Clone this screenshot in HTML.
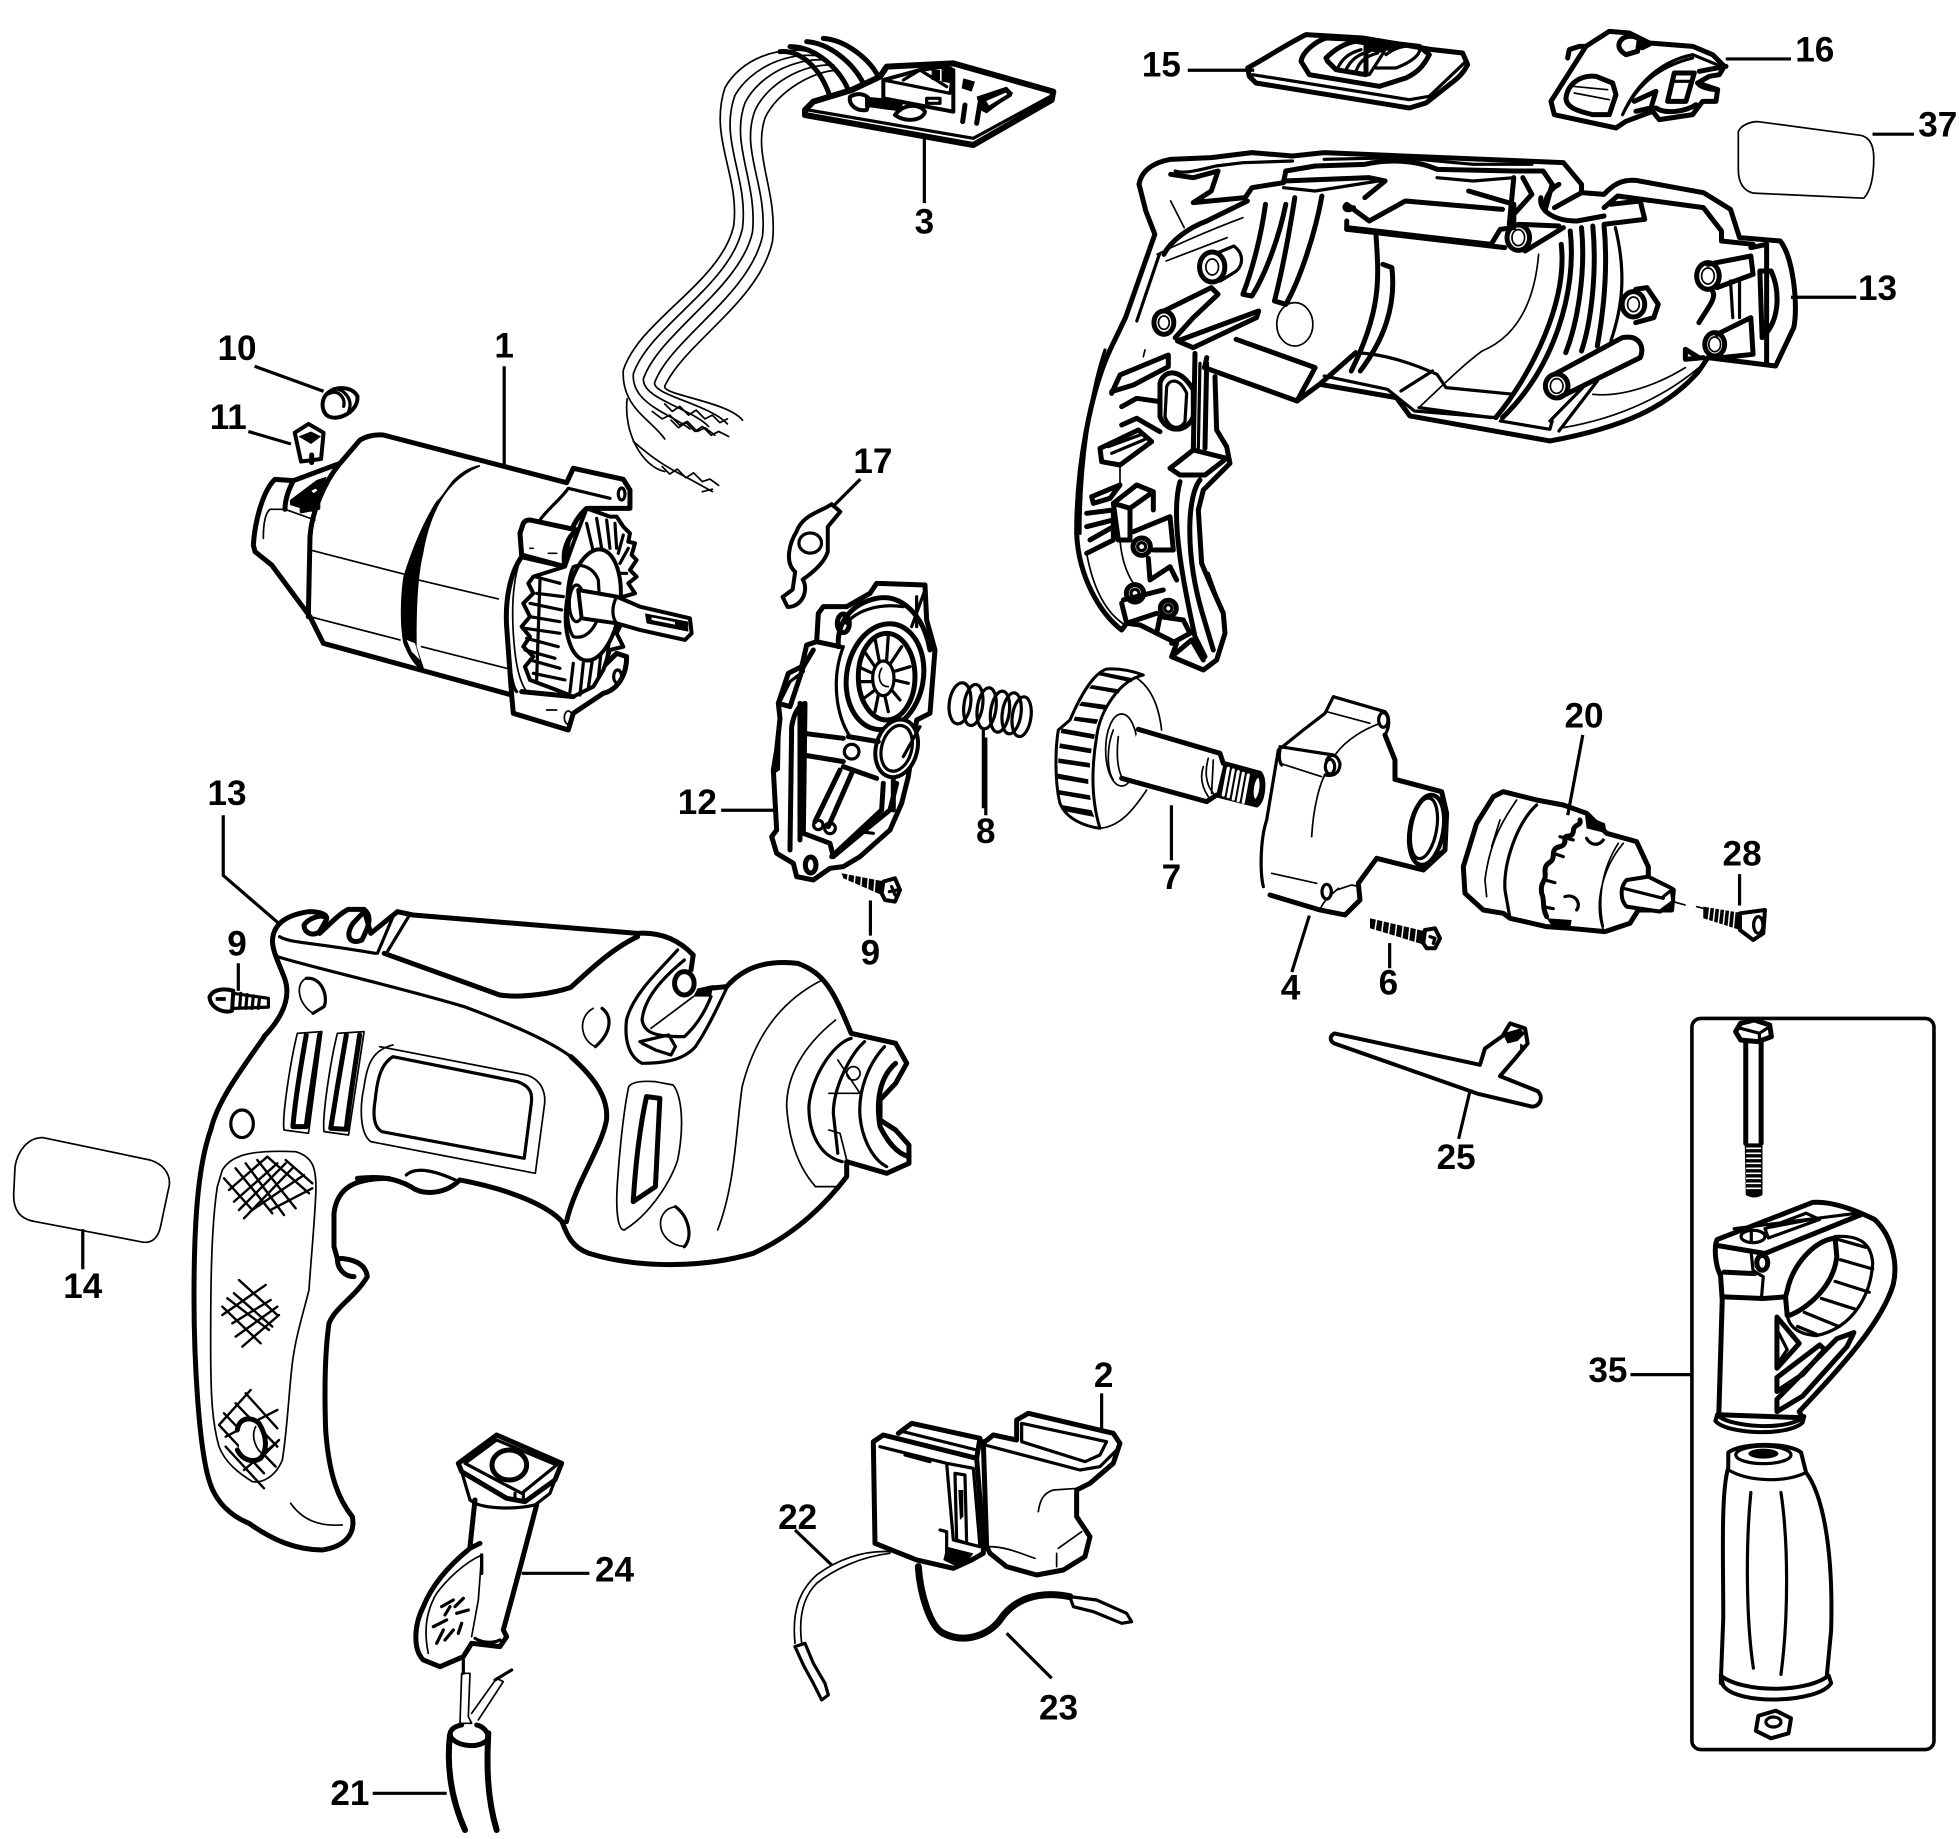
<!DOCTYPE html>
<html><head><meta charset="utf-8"><style>
html,body{margin:0;padding:0;background:#fff}
svg{display:block}
svg *{vector-effect:non-scaling-stroke}
text{font-family:"Liberation Sans",sans-serif;font-weight:bold;font-size:28px;fill:#000;text-anchor:middle}
.t,.t *{fill:none;stroke:#000;stroke-width:5;stroke-linejoin:round;stroke-linecap:round}
.m,.m *{fill:none;stroke:#000;stroke-width:3.2;stroke-linejoin:round;stroke-linecap:round}
.f,.f *{fill:#fff;stroke:#000;stroke-width:4;stroke-linejoin:round;stroke-linecap:round}
.n,.n *{fill:none;stroke:#000;stroke-width:1.7;stroke-linecap:round;stroke-linejoin:round}
.b,.b *{fill:#000;stroke:none}
.l{fill:none;stroke:#000;stroke-width:3.2}
</style></head><body>
<svg width="1959" height="1839" viewBox="0 0 1959 1839" xmlns="http://www.w3.org/2000/svg">

<g transform="scale(1.2542)">
<!-- Labels -->
<text x="402" y="285">1</text><text x="189" y="287">10</text><text x="182" y="342">11</text>
<text x="737" y="186">3</text><text x="926" y="61">15</text><text x="1447" y="49">16</text>
<text x="1545" y="109">37</text><text x="1497" y="239">13</text><text x="696" y="377">17</text>
<text x="556" y="649">12</text><text x="786" y="672">8</text><text x="934" y="709">7</text>
<text x="1263" y="580">20</text><text x="1389" y="690">28</text><text x="1029" y="797">4</text>
<text x="1107" y="793">6</text><text x="694" y="769">9</text><text x="181" y="642">13</text>
<text x="189" y="762">9</text><text x="1161" y="932">25</text><text x="1282" y="1102">35</text>
<text x="66" y="1035">14</text><text x="880" y="1106">2</text><text x="636" y="1219">22</text>
<text x="490" y="1261">24</text><text x="844" y="1371">23</text><text x="279" y="1439">21</text>

<!-- Leader lines -->
<path class="l" d="M402,292V372M203,292L258,312M198,344L232,354M737,110V162M947,56H1000M1376,47H1428M1493,107H1526M1428,237H1480M686,382L660,408M575,646H620M786,588V650M934,642V686M1262,586L1250,650M1387,697V722M1044,730L1030,775M1108,752V772M694,718V746M178,650V698L222,736M190,768V790M1172,870L1163,908M1300,1096H1348M66,980V1012"/>

<!-- 3 : wires -->
<g class="n">
<path d="M650,42C620,35 590,48 578,70C565,110 590,140 585,180C575,225 510,255 497,295C495,325 520,335 530,350"/>
<path d="M655,45C628,40 598,55 586,76C573,112 597,142 592,182C582,228 518,260 505,298C503,322 535,330 550,342"/>
<path d="M660,48C635,45 605,60 594,82C582,115 604,145 600,185C590,230 526,265 513,302C512,318 550,325 565,340"/>
<path d="M665,52C642,50 612,66 602,88C590,120 612,148 608,188C598,235 535,270 522,305C520,315 565,322 580,338"/>
<path d="M668,56C650,56 620,72 610,94C600,124 620,152 616,192C606,240 545,274 530,308C528,315 580,320 592,335"/>
<path d="M500,318C497,345 512,372 530,376"/>
<path d="M505,352C520,365 530,372 550,382L568,392"/>
<path d="M528,372l6,6l6,-4l7,7l6,-4l7,7l6,-2l7,5M560,392l8,-2"/>
<path d="M530,322l6,6l6,-4l7,7l6,-4l7,7l6,-3l6,6l6,-3M535,335l6,6l6,-4l7,7l6,-4l7,7l6,-3l8,4M520,328l8,6l6,-3l8,8l6,-3l8,8l6,-3l8,6"/>
</g>

<!-- 37 -->
<path class="n" d="M1386,105C1388,100 1395,97 1402,97L1484,108C1492,110 1494,118 1494,126C1494,140 1492,152 1486,158L1398,154C1390,152 1386,146 1386,135Z"/>

<!-- 10, 11 -->
<path class="f" d="M258,318C262,308 280,306 285,316C286,328 270,336 262,332C258,330 256,324 258,318Z"/>
<path class="m" d="M262,314C268,310 276,316 274,324M266,310C274,310 282,318 278,328"/>

<!-- 17 -->
<path class="f" d="M635,424C640,410 655,408 663,402L670,408L660,420L660,440C656,452 640,462 640,462C645,470 640,484 628,484L624,476L632,470L634,456C625,448 630,432 635,424Z"/>
<ellipse class="m" cx="646" cy="433" rx="9" ry="8"/>

<!-- 25 key -->
<path class="f" d="M1064,824L1180,849L1184,836L1198,826L1204,816L1216,820L1218,832L1208,844L1196,858L1226,870C1232,876 1226,884 1220,882L1178,872L1064,832C1060,830 1060,826 1064,824Z"/>
<path class="b" d="M1198,824l14,-4l4,4l-6,6l-8,2zM1212,832l4,2l-4,6z"/>

<!-- 35 box -->
<rect x="1349" y="812" width="193" height="583" rx="7" fill="#fff" stroke="#000" stroke-width="3.6"/>
<!-- grip -->
<path class="f" d="M1378,1158C1390,1150 1425,1150 1436,1158L1440,1174C1452,1190 1462,1230 1460,1300L1456,1342C1440,1352 1392,1352 1372,1342L1374,1290C1374,1240 1372,1190 1378,1170Z"/>
<ellipse class="m" cx="1406" cy="1160" rx="22" ry="7"/>
<ellipse class="b" cx="1406" cy="1159" rx="12" ry="4"/>
<path class="m" d="M1378,1172C1395,1182 1425,1182 1440,1174M1396,1190C1392,1230 1392,1290 1398,1330M1420,1190C1426,1230 1426,1290 1420,1335"/>
<path class="f" d="M1372,1336C1390,1350 1440,1350 1458,1336L1460,1342C1450,1358 1385,1360 1374,1344Z"/>
<path class="f" d="M1402,1368L1416,1364L1428,1370L1426,1382L1412,1386L1400,1380Z"/>
<ellipse class="m" cx="1414" cy="1373" rx="6" ry="4"/>

<!-- Lower drill: upper-left edge -->
<path class="t" d="M210.5,827C187,860 173,880 168,901"/>
<g class="m"><ellipse cx="193" cy="896" rx="9" ry="11"/></g>

<!-- 14 -->
<path class="n" d="M12,930C14,918 22,907 34,907L120,925C130,928 136,936 135,945L128,978C126,988 120,992 112,990L28,974C16,972 10,965 11,950Z"/>

<!-- 9 screw left -->
<path class="f" d="M167,795C170,788 180,788 186,790L185,806C178,808 168,804 167,795Z"/>
<path class="m" d="M186,792L214,796L214,803L186,804M192,792l-1,12M197,793l-1,11M202,794l-1,10M207,795l-1,9"/>
<path class="b" d="M172,795h8v3h-8z"/>

<!-- 11 -->
<path class="f" d="M235,345L246,338L258,345L256,366L240,368Z"/>
<path class="b" d="M238,348l10,-4l8,4l-8,6z"/>
</g>

<!-- 15 and 16 -->
<g transform="translate(1246,18) scale(.3333)">
<path class="t" d="M5,150C60,120 120,80 180,50L350,60L560,95L650,105L665,140C650,170 630,185 610,200L540,255L490,270L30,195L10,175Z"/>
<path class="m" d="M20,170L490,245L550,235L660,130"/>
<path class="t" d="M165,130C170,100 210,70 240,60L350,65L520,85L550,110C530,150 510,165 480,180L400,205L190,170Z"/>
<path class="t" d="M240,120C270,90 300,75 330,70L360,75L360,170L270,155L245,130Z"/>
<path class="b" d="M350,70L470,75L440,100L360,90Z"/>
<path class="m" d="M360,95L415,100L370,170L340,170M275,150C290,120 310,105 345,95M300,155C315,125 335,110 370,100M330,160C340,130 360,115 395,105"/>
<path class="m" d="M420,110C450,85 490,80 520,85C530,110 490,135 450,150L390,150"/>
<path class="t" d="M965,120L970,95L1000,85L1020,85L1090,40L1150,45L1210,75L1340,85L1400,110L1435,145L1420,170L1390,175L1355,195L1415,215L1410,250L1370,250L1340,290L1240,305L1220,280L1140,310L1110,330L925,290L915,250L1020,85"/>
<path class="t" d="M1120,75C1130,50 1165,50 1180,65L1175,100L1140,110C1125,100 1115,90 1120,75Z"/>
<path class="b" d="M1180,70l40,12l-30,15l-15,-5z"/>
<path class="t" d="M960,240C965,200 1000,170 1050,175L1100,195L1110,230L1090,290L1040,290C1000,280 960,270 960,240Z"/>
<path class="n" d="M980,205L1085,215M985,225L1090,245"/>
<path class="m" d="M1130,290C1170,200 1240,130 1340,110L1425,145M1140,270C1190,180 1260,140 1340,120"/>
<path class="t" d="M1285,165L1345,165L1320,250L1265,250Z"/>
<path class="m" d="M1285,190L1330,190"/>
<path class="t" d="M1165,250L1230,220L1215,270L1170,280M1360,160L1440,145M1230,270C1260,290 1320,280 1350,260M1355,195C1370,215 1415,215 1415,215"/>
</g>

<!-- Switch 2, wires 22/23 -->
<g transform="translate(780,1400) scale(.3333)">
<path class="l" d="M45,390L155,495M680,700L815,835M965,-20V85"/>
<path class="t" d="M615,125L640,105L710,120L710,60L745,40L1000,100L1020,130L1000,190L930,250L890,270L890,350L930,410L915,470L850,510L770,525L680,500L630,460L620,440L610,125"/>
<path class="m" d="M725,70L980,125L960,165L915,185L725,125ZM615,135L900,210L960,200L1010,150"/>
<path class="n" d="M895,265L820,270C790,280 780,300 775,335M625,440C680,440 720,460 765,475M905,395L835,445M830,460V500"/>
<path class="t" d="M280,125L310,105L590,175L610,420L610,460L575,480L520,505L410,480L285,430Z"/>
<path class="t" d="M355,100L395,70L600,115L590,175"/>
<path class="m" d="M370,95L590,150M300,140L500,190M375,165L450,185M500,190L580,205L600,440L520,420ZM525,220L555,225L560,430L530,420ZM480,390L500,395L500,480"/>
<path class="b" d="M535,270L550,270L550,350L540,360ZM500,440L580,460L560,490L520,495L490,480Z"/>
<path class="n" d="M330,455C250,450 170,480 110,525C60,570 35,630 45,730M330,460C240,470 160,510 110,550C70,590 55,650 65,730"/>
<path class="m" d="M45,740L75,730L100,790L135,850L145,885L125,900L100,850L70,795Z"/>
<path class="t" style="stroke-width:7" d="M415,500C420,580 450,680 490,700C560,735 630,700 660,660C700,600 770,570 870,590"/>
<path class="m" d="M870,590L950,600L1040,640L1055,665L1025,670L940,635L880,620Z"/>
</g>

<!-- 24 and cord -->
<g transform="translate(400,1430) scale(.3333)">
<path class="l" d="M-82,1090H140M365,430H568"/>
<path class="t" d="M175,100L290,15L485,100L465,150L375,215L320,205L185,125Z"/>
<path class="m" d="M195,100L290,30L470,105L365,190Z"/>
<ellipse class="t" cx="328" cy="105" rx="52" ry="45"/>
<path class="m" d="M185,125L210,210L225,220C260,235 340,240 405,225L450,190L465,150M345,190V210M370,190V210"/>
<path class="t" d="M225,210L210,350M410,225C390,300 370,380 310,600L320,620L300,650L215,640L190,680L120,710L70,690C40,660 40,590 70,530C90,480 130,420 210,355L240,340"/>
<path class="n" d="M245,375L235,510L215,620M245,375C190,400 140,450 110,490C80,540 70,600 85,670"/>
<path class="t" style="stroke-width:3.4" d="M245,375L245,430"/>
<path class="m" d="M225,625C250,640 280,640 300,630M125,530L160,510M150,530L135,555M165,530L190,505M170,550L205,540M100,590L140,570M130,600L110,640M160,600L135,630M185,580L175,610"/>
<path class="m" d="M190,690V730"/>
<path class="n" d="M185,730L210,730L205,860L215,880L180,880ZM215,850L290,745L310,755L235,870"/>
<path class="m" d="M285,750L335,720"/>
<path class="t" d="M185,885C160,890 150,900 150,915C160,950 245,960 265,925C265,905 250,890 230,885"/>
<path class="t" style="stroke-width:6" d="M150,915C140,1000 150,1100 195,1200M265,910C260,1000 260,1100 290,1200"/>
</g>

<!-- Lower handle -->
<g transform="translate(189,1130) scale(.3333)">
<path class="t" d="M65,0C30,100 15,250 15,500C15,700 30,950 60,1050C80,1120 130,1160 180,1180C250,1230 320,1260 400,1260C470,1250 500,1210 490,1160C450,1110 420,1040 410,900C405,750 410,650 420,580C440,530 500,500 535,440C530,400 490,385 445,385L435,350L435,250C445,170 500,145 600,145M445,385C445,420 470,440 495,440"/>
<path class="n" d="M100,120C130,70 200,60 320,65C370,80 385,110 380,200C375,300 365,400 360,480C340,560 320,620 310,700C300,780 295,900 280,990C260,1040 220,1060 190,1055C150,1030 110,1000 90,950C70,880 65,800 65,650C65,500 65,300 85,170ZM305,1120C340,1170 390,1190 460,1185"/>
<g class="m" style="--x:0"><path style="stroke-width:2.4" d="M205,90L320,235M170,100L285,255M140,115L250,250M105,145L190,240M235,80L360,190M290,90L370,160M165,265L310,115M190,240L345,135M245,240L370,175M120,180L235,80M135,215L265,100M150,240L290,100"/>
<path style="stroke-width:2.4" d="M150,450L265,555M115,505L240,600M100,530L215,640M135,490L250,590M100,555L230,465M130,580L245,510M140,620L265,530M160,650L270,555"/>
<path style="stroke-width:2.4" d="M170,790L265,895M140,820L265,950M105,850L260,1010M90,885L225,1030M110,950L225,1075M90,885L185,780M110,920L265,840M210,990L270,930M165,1020L260,940"/></g>
<path class="f" style="stroke:none" d="M150,880C190,850 230,900 225,950C220,990 170,1000 150,960Z"/>
<path class="t" d="M145,900C150,860 190,860 210,880C235,920 235,960 215,985C190,1000 160,990 145,960"/>
<path class="n" d="M200,890C185,920 200,960 225,975"/>
</g>

<!-- PCB (z8) -->
<g transform="translate(780,40) scale(.3333)">
<path class="t" style="stroke-width:6;fill:#fff" d="M75,210L100,185L215,150L300,110L320,80L520,70L820,155L815,180L580,315L75,225Z"/>
<path class="m" d="M85,210L580,295L810,170"/>
<path class="f" d="M310,120L420,90L490,80L520,90L520,215L310,175Z"/>
<path class="m" d="M310,120L510,160L520,90M370,120L420,90L500,140M440,175h40v15h-40z"/>
<path class="b" d="M455,90h25v30h-25zM485,85l30,-5v50l-30,-5zM550,115l35,10l-10,30l-30,-10z"/>
<path class="f" d="M210,170C240,155 260,165 270,180L260,210C230,215 205,195 210,170Z"/>
<path class="f" d="M345,225C370,190 420,190 435,215C430,240 380,250 345,225Z"/>
<path class="b" d="M255,170L370,180L365,215L255,200Z"/>
<path class="f" d="M270,178L345,190L340,200L268,188Z"/>
<path class="b" d="M590,170l90,-30l20,20l-80,60l-20,-10z"/>
<path class="f" d="M610,180L680,150L690,165L625,205Z"/>
<path class="t" d="M555,195L548,245M600,190L590,250"/>
<g class="t"><path d="M0,35C60,30 120,80 150,170M30,20C110,20 180,90 205,150M80,5C150,10 220,70 250,130M130,-5C200,0 270,60 295,110"/></g>
</g>

<!-- Upper housing (z4) -->
<g transform="translate(1125.5,141) scale(.4515,.3333)">
<path class="t" d="M30,130C35,90 60,65 100,55L190,50L280,35L370,45L440,35L970,65L1010,130L1010,155L1060,160C1080,130 1100,115 1130,118L1280,155L1340,205L1360,290L1450,300C1480,350 1490,500 1480,560L1440,675L1290,650L1270,690C1200,800 1100,860 940,900L630,825L600,770L430,730L380,780L175,680"/>
<path class="t" d="M30,130L45,210L65,280L0,530"/>
<path class="m" d="M75,340L25,540"/>
<path class="t" d="M100,100L150,110L205,90L190,150L150,185L265,170L280,140L350,125L355,90L420,75L530,70C580,55 640,55 690,85L860,90L925,90L945,130L930,205"/>
<path class="m" d="M110,90C130,100 170,85 200,75L260,65L370,60M440,55L610,50L770,70L900,70M350,140L420,150L560,120M690,110L770,120L860,110"/>
<path class="t" d="M85,340C100,300 140,260 180,240L270,180"/>
<path class="n" d="M100,180L130,260M70,340C100,320 180,270 260,230M90,360L225,290"/>
<ellipse class="t" cx="85" cy="545" rx="22" ry="35"/><ellipse class="n" cx="85" cy="545" rx="12" ry="20"/>
<path class="t" d="M85,510L190,440L205,460L150,530L130,560L110,590"/>
<ellipse class="t" cx="192" cy="378" rx="28" ry="45"/><ellipse class="n" cx="192" cy="378" rx="14" ry="24"/>
<path class="m" d="M205,335L240,315C265,340 260,380 240,395L210,420"/>
<path class="t" d="M310,190C300,290 280,390 260,460L280,465C310,400 340,290 355,190M375,170C360,300 345,400 330,480L355,490C385,420 420,280 435,165"/>
<ellipse class="n" cx="375" cy="550" rx="40" ry="65"/>
<path class="t" d="M115,600L295,510L290,530L150,620Z"/>
<path class="t" d="M175,680L180,650M245,595L420,680L380,780"/>
<path class="t" d="M430,730L510,635"/><path class="m" d="M510,635C580,640 640,670 690,700L710,740L860,760M610,750L680,690M650,800L810,830"/>
<path class="t" d="M490,260L810,310L830,265L860,260L860,190L760,150M490,190L540,240L620,180L835,205M490,265L840,320"/>
<path class="t" d="M490,190C480,200 490,215 505,200M490,240L490,265M350,120L540,110L575,120L530,170"/>
<path class="t" d="M555,285C560,400 570,500 500,690M570,370L590,380C600,500 570,600 520,690"/>
<path class="n" d="M915,340C905,500 860,590 790,630C750,670 720,710 650,800"/>
<ellipse class="t" cx="870" cy="290" rx="25" ry="38"/><ellipse class="n" cx="870" cy="290" rx="14" ry="24"/>
<path class="t" d="M870,250L960,255M885,330L970,260M860,110L850,250M880,110L900,160L860,220M920,170C915,210 950,240 1000,240L1060,225"/>
<path class="t" d="M965,310C980,480 900,700 820,830M985,270C1000,450 950,680 835,830"/>
<path class="t" d="M1010,260C1020,400 1000,550 975,635M1035,255C1045,400 1030,550 1010,630M1060,255C1070,400 1055,540 1045,615"/>
<path class="m" d="M1085,260C1110,400 1100,500 1075,600"/>
<ellipse class="t" cx="1125" cy="490" rx="25" ry="38"/><ellipse class="n" cx="1125" cy="490" rx="13" ry="22"/>
<path class="t" d="M1130,445L1155,440L1180,490L1170,530L1130,545"/>
<path class="t" d="M950,700L1100,590C1140,580 1150,620 1140,650L960,770"/>
<ellipse class="t" cx="955" cy="735" rx="25" ry="36"/><ellipse class="n" cx="955" cy="735" rx="14" ry="22"/>
<path class="m" d="M960,870L1045,720M940,840L1020,730"/>
<path class="n" d="M1035,760C1100,770 1180,730 1240,680M970,860C1100,830 1200,760 1270,680"/>
<ellipse class="t" cx="1290" cy="405" rx="25" ry="40"/><ellipse class="n" cx="1290" cy="405" rx="14" ry="24"/>
<ellipse class="t" cx="1305" cy="610" rx="22" ry="35"/><ellipse class="n" cx="1305" cy="610" rx="13" ry="22"/>
<path class="t" d="M1290,370L1385,345L1390,400L1310,440M1310,580L1385,530L1390,640L1320,650M1270,545C1290,500 1310,470 1300,450M1385,320L1420,310L1420,670M1430,390C1450,450 1450,540 1410,590L1405,390Z"/>
<path class="t" d="M1060,200L1090,165L1280,200L1320,270L1320,300L1390,310M1270,650L1240,625L1240,655L1280,650M1075,190L1140,180L1150,235L1060,250M960,130C930,150 925,200 930,210M1010,155L950,200"/>
<path class="m" d="M1340,420L1345,530M1360,420L1360,530"/>
<path class="m" d="M440,705L580,745L640,810L820,830L830,810M830,840L940,865L945,840"/>
</g>

<!-- Upper housing handle (z5) -->
<g transform="translate(1070,350) scale(.3333)">
<path class="t" d="M166,-96L120,0C60,130 20,350 20,550C25,680 90,790 155,840L170,820L210,825L260,850L320,880L305,920L400,960L440,930L465,850L460,790L420,700L395,640L385,480L400,420L480,340L470,290L440,240L435,80"/>
<path class="m" d="M105,0C60,130 30,350 30,550"/>
<path class="n" d="M50,610C70,720 110,790 165,825M150,345L150,405M150,570C155,630 170,670 190,700M225,0L220,20"/>
<path class="t" d="M125,130L150,75L295,15L295,50L190,105L125,125Z"/>
<path class="t" d="M270,100C280,60 330,50 370,120L370,200C350,250 290,250 270,200Z"/>
<path class="m" d="M290,110C300,85 330,85 350,130L345,215C330,240 300,240 285,200Z"/>
<path class="t" d="M155,170L200,145L270,155M155,225L200,205L270,245"/>
<path class="t" d="M375,10L370,300M410,40L405,295"/><path class="m" d="M390,40L385,295"/>
<path class="t" d="M300,355L370,300L470,325L405,375L330,375Z"/>
<path class="t" d="M90,295L205,240L245,275L150,345L95,335Z"/><path class="m" d="M115,290L210,255M125,310L225,268"/>
<path class="t" d="M130,460L200,405L250,425L250,480M130,460L180,475L180,570L145,570L130,460M180,475L250,425"/>
<path class="t" d="M65,440L150,405L120,445L70,460Z"/>
<path class="t" d="M50,490L130,480L130,570L50,610M50,530L130,510M60,570L130,530"/>
<circle class="t" cx="215" cy="590" r="26"/><circle class="m" cx="215" cy="590" r="12"/>
<path class="t" d="M190,545L300,500L310,600L250,600M235,625L240,690L300,650L320,690"/>
<circle class="t" cx="195" cy="730" r="26"/><circle class="m" cx="195" cy="730" r="12"/>
<path class="t" d="M160,750L280,720M155,760L170,820L260,790M260,850L270,800L340,810L360,850L305,880"/>
<circle class="t" cx="295" cy="775" r="24"/><circle class="m" cx="295" cy="775" r="11"/>
<path class="t" d="M330,395C300,500 340,700 375,860L405,920M390,390C350,440 345,620 400,800L430,900"/>
<path class="m" d="M415,670L440,740"/>
<path class="t" d="M305,920L365,870L400,930"/>
</g>

<!-- Lower drill right part (z6) -->
<g transform="translate(264,900) scale(.4448,.3333)">
<path class="t" d="M0,410C50,340 60,280 45,230C30,180 15,140 20,110C25,70 50,45 100,35C130,35 145,45 140,60L125,95C110,110 90,100 90,75C100,55 125,45 135,50M125,100C150,70 170,40 190,28L225,28C245,50 235,80 220,120C195,135 180,110 200,70L225,35M225,30L240,100L300,35L335,45L840,100C900,95 940,130 965,165L960,210M1000,265L1040,260C1080,200 1130,180 1200,190C1260,220 1280,270 1320,400L1420,430L1445,490L1420,550L1385,600L1385,660L1420,690L1450,735L1450,790L1400,820L1310,785L1310,830C1270,900 1200,1000 1100,1060C1000,1100 850,1110 730,1060C690,1040 680,1000 670,965C640,920 560,870 440,840C410,880 360,890 330,860C290,830 250,830 210,835"/>
<path class="m" d="M35,110C60,130 100,125 250,160"/>
<path class="t" d="M270,160L530,285C580,295 650,280 690,262C740,200 790,140 840,110"/>
<path class="m" d="M255,160L290,50M275,160L325,50"/>
<path class="m" d="M30,170C100,200 300,260 450,320C550,370 640,420 690,470"/>
<path class="t" d="M690,470C740,530 775,590 770,660C760,740 700,850 680,965"/>
<path class="n" d="M75,400L130,395L100,700L45,690C40,650 60,480 75,400M165,400L225,395L190,705L135,695C130,650 150,480 165,400"/>
<path class="t" d="M95,405C85,480 70,600 65,680L95,680M125,405C115,500 100,620 95,680M185,405C175,480 160,600 150,685L185,688M215,405C205,500 190,620 185,688"/>
<path class="n" d="M260,440L590,525C625,540 635,580 630,620L610,820L240,725C215,700 215,620 225,560C232,490 245,450 290,435"/>
<path class="m" d="M290,470L570,545C600,560 605,580 600,620L585,775L265,695C245,680 245,640 250,600C255,530 265,490 290,470Z"/>
<path class="n" d="M820,560Q830,540 880,545L920,555C940,590 945,680 930,780C910,860 860,950 810,990C795,990 790,930 795,840C800,740 810,620 820,560Z"/>
<path class="t" d="M860,590L890,595L880,860L830,905C835,800 845,680 860,590Z"/>
<path class="m" d="M95,235C130,230 145,290 135,320L110,340"/><path class="n" d="M95,235C70,250 75,310 110,340"/>
<path class="m" d="M760,325C785,350 780,400 745,440"/><path class="n" d="M740,325C705,350 710,420 745,440"/>
<path class="m" d="M925,920C955,950 965,1010 945,1040"/><path class="n" d="M925,920C875,930 880,1030 945,1040"/>
<path class="m" d="M930,150C890,210 830,280 815,360C810,420 820,470 850,490C890,490 940,485 970,440C1000,380 1020,320 1040,265"/>
<path class="m" d="M945,180C900,230 855,290 850,360C855,400 880,410 945,410C970,380 990,340 1005,290"/>
<path class="n" d="M965,290L870,385"/>
<ellipse class="t" cx="945" cy="250" rx="22" ry="35"/>
<path class="m" d="M845,425L910,405L925,440L915,465L880,450L850,430"/>
<path class="b" d="M965,290L1005,290L1010,255L975,265Z"/>
<path class="n" d="M1255,240C1150,310 1100,430 1075,560C1060,700 1060,850 1020,990M1285,360C1210,440 1175,530 1175,620C1180,720 1200,800 1240,860L1290,860"/>
<path class="m" d="M1320,415C1280,430 1230,530 1225,620C1225,700 1250,770 1300,785M1350,425C1320,460 1280,560 1280,640L1290,760M1395,440C1360,490 1335,570 1340,650C1345,720 1370,780 1400,800"/>
<path class="t" d="M1420,490C1385,530 1375,600 1385,680C1400,720 1420,760 1450,770"/>
<path class="n" d="M1290,480L1340,580L1270,580M1325,500a15,20 0 1,0 .1,0M1270,690L1295,700L1310,780"/>
<path class="m" d="M320,825C340,800 380,810 430,840"/>
</g>

<!-- Motor (z1) -->
<g transform="translate(240,420) scale(.3333)">
<path class="b" d="M140,270L160,215L230,170L270,160L230,290Z"/>
<path class="t" style="fill:#fff" d="M40,375C45,300 70,210 105,178L160,182L300,130L360,60Q390,42 430,45L980,188L1000,145L1150,178L1170,210L1170,265L1040,265C1000,300 980,350 975,440L845,410C810,460 795,540 800,620L815,825L560,755L250,670L210,590L95,435L45,395Z"/>
<path class="n" d="M70,355C70,310 75,280 90,268L135,268L225,300"/>
<path class="t" d="M210,350L205,590M300,130C250,190 215,280 210,350M160,182C140,220 135,250 135,268"/>
<path class="b" d="M150,240l80,-60l30,-10l-20,60l-10,50l-80,-25z"/>
<path class="f" d="M185,262l50,-10v12l-50,10zM205,210l25,-12l10,15l-20,15z"/>
<path class="n" d="M210,390L490,462M210,590L480,660M535,480L775,537M545,680L800,745"/>
<path class="b" d="M720,135C620,150 540,310 490,470C480,540 480,620 490,670C510,720 530,745 555,755L530,680C530,600 530,480 550,400C570,280 620,180 720,140Z"/>
<path class="f" style="stroke:none" d="M500,660l25,10l15,50l-25,-25zM620,175l40,-25l-50,70l-20,25z"/>
<path class="m" d="M900,300C920,270 960,240 985,205L1110,235"/>
<path class="t" style="fill:#fff" d="M850,310Q855,300 870,300L1010,330C985,350 965,390 975,440L845,405L840,340Z"/>
<path class="t" style="fill:#fff" d="M815,825L820,880L985,930L1000,880L1090,820C1130,810 1160,770 1160,710L1130,700L1000,830L845,815"/>
<path class="n" d="M920,870h30M870,385h10M925,400h25"/>
<ellipse class="n" cx="985" cy="893" rx="12" ry="20"/>
<ellipse class="m" cx="1133" cy="770" rx="12" ry="20"/>
<ellipse class="m" cx="1145" cy="222" rx="10" ry="18"/>
<path class="m" d="M845,410C810,460 795,540 800,620C805,720 815,800 830,815"/>
<path class="n" d="M840,420C820,480 815,560 820,640C825,720 835,780 860,815"/>
<path class="f" d="M1040,265L1110,290L1130,290L1150,320L1170,340L1165,365L1185,370L1175,405L1190,420L1170,450L1190,470L1165,490L1185,520L1150,530L1150,600L1130,640L1150,680L1110,690L1090,750L1060,800L1000,830L950,810L870,780L855,740L880,710L850,680L870,650L845,620L870,590L850,550L880,520L865,490L880,470L975,440L1000,370Z"/>
<path class="m" d="M885,470L960,490M890,520L970,530M870,550L965,570M870,590L960,605M855,625L960,640M860,655L955,680M855,690L945,715M870,720L960,745M880,760L975,780M900,480L890,780"/>
<path class="m" d="M1040,310L1060,395M1070,295L1085,385M1100,300L1110,385M1125,310L1130,385M1150,345L1135,400M1165,385L1140,430M1160,460L1140,460M1000,730L990,815M1030,730L1020,825M1060,700L1045,805M1085,680L1075,775M1110,650L1100,720"/>
<ellipse class="f" cx="1060" cy="555" rx="80" ry="168" transform="rotate(8 1060 555)"/>
<path class="m" d="M1000,440C975,490 975,620 1000,650C1040,660 1075,620 1080,560L1075,480C1060,440 1020,430 1000,440Z"/>
<ellipse class="m" cx="1010" cy="550" rx="22" ry="55"/>
<path class="f" d="M1015,510L1130,530L1200,560L1350,595L1355,640L1335,660L1200,630L1130,610L1025,595Z"/>
<path class="b" d="M1215,580L1345,605L1345,635L1220,610Z"/>
<path class="f" style="stroke:none" d="M1235,592l70,14v8l-70,-14z"/>
<path class="m" d="M1130,530C1115,560 1115,590 1130,610"/>
<path class="t" d="M215,105V128"/>
</g>

<!-- Gear case, spring, gear 7 (z2) -->
<g transform="translate(760,570) scale(.3333)">
<path class="t" d="M100,880L110,920L160,930L210,895L250,890L300,860L390,780L425,700L445,620L470,450L510,430L525,240L500,150L495,45L350,40L330,70L260,110L190,110L175,130L170,215L140,225L125,290L85,310L55,400L60,445L50,540L40,600L50,780L35,800L50,850Z"/>
<path class="b" d="M50,540L62,490L60,600L45,610Z"/>
<path class="t" d="M90,840L95,470Q105,410 135,400L130,790L210,820L220,860L310,785L390,720L410,640M120,400L120,810M55,400L90,410L130,290L160,240M170,215L240,230M235,230C230,150 280,100 350,85C420,70 490,130 510,240"/>
<ellipse class="t" cx="250" cy="160" rx="18" ry="28"/>
<path class="m" d="M260,160C290,120 360,100 430,110M250,230C215,320 225,430 270,500M470,80L470,170M495,60L455,170"/>
<ellipse class="t" cx="375" cy="320" rx="115" ry="160" transform="rotate(10 375 320)"/>
<ellipse class="t" cx="380" cy="320" rx="85" ry="130"/>
<ellipse class="m" cx="370" cy="325" rx="32" ry="52"/>
<path class="m" d="M385,195L380,270M345,205L358,275M310,240L345,290M295,290L338,310M295,335L338,335M305,390L345,360M345,425L355,375M385,425L375,380M420,390L395,360M445,340L402,330M450,290L400,305M425,230L392,280"/>
<path class="n" d="M365,295C350,320 360,350 385,350"/>
<ellipse class="f" cx="410" cy="535" rx="62" ry="88" transform="rotate(15 410 535)"/>
<ellipse class="m" cx="410" cy="535" rx="45" ry="70" transform="rotate(15 410 535)"/>
<path class="t" d="M130,490L250,505M130,555L250,575M250,590L350,625M240,600L165,755M275,610L205,770M370,640L365,720L215,860M400,630L400,720M265,500L355,515"/>
<circle class="m" cx="275" cy="545" r="22"/>
<circle class="m" cx="210" cy="775" r="16"/><circle class="m" cx="175" cy="765" r="14"/>
<ellipse class="t" cx="152" cy="885" rx="16" ry="24"/>
<path class="m" d="M300,785L340,790M430,560L480,470M60,395l30,-60l40,-30"/>
<g class="m">
<ellipse cx="600" cy="400" rx="32" ry="62" transform="rotate(8 600 400)"/>
<ellipse cx="640" cy="405" rx="28" ry="62" transform="rotate(8 640 405)"/>
<ellipse cx="680" cy="415" rx="28" ry="62" transform="rotate(8 680 415)"/>
<ellipse cx="720" cy="425" rx="28" ry="62" transform="rotate(8 720 425)"/>
<ellipse cx="755" cy="430" rx="28" ry="62" transform="rotate(8 755 430)"/>
<ellipse cx="785" cy="440" rx="28" ry="60" transform="rotate(8 785 440)"/>
</g>
<path class="l" d="M670,480V715"/>
<path class="n" d="M1040,300C1130,300 1190,350 1205,480M1160,660C1120,720 1080,770 1020,775"/>
<path class="f" style="stroke-width:3" d="M1040,297C1000,310 960,380 930,450L895,480C885,540 885,640 900,700C920,750 980,770 1020,775C1000,710 990,620 1010,500C1020,420 1080,330 1150,315C1110,300 1070,295 1040,297Z"/>
<path class="b" d="M1020,305l100,20l-6,12l-100,-22zM995,345l88,14l-8,12l-88,-16zM965,395l75,10l-8,14l-75,-12zM945,440l70,8l-6,14l-68,-10zM905,475l100,18l-3,14l-100,-18zM900,520l95,16l-2,14l-95,-16zM895,565l95,14l0,14l-95,-14zM890,610l95,18v14l-95,-16zM895,660l95,16l2,14l-95,-16zM905,705l90,16l8,20l-92,-18z"/>
<ellipse class="n" cx="1085" cy="540" rx="48" ry="108"/>
<path class="n" d="M1060,480C1040,530 1040,600 1060,630M1075,500C1070,540 1070,590 1085,620"/>
<path class="t" style="fill:#fff" d="M1135,478L1380,550L1390,580L1500,610C1515,630 1510,690 1490,705L1370,675L1340,695L1085,625"/>
<path class="n" d="M1330,590C1320,620 1325,650 1345,680M1345,565C1335,600 1335,640 1360,670M1360,570L1355,670"/>
<path class="b" d="M1390,585l100,30l10,50l-10,35l-120,-30z"/>
<path class="m" style="stroke:#fff" d="M1405,595l-15,80M1420,600l-15,80M1435,605l-15,82M1450,610l-15,82M1465,615l-15,82"/>
<ellipse class="f" cx="1490" cy="655" rx="14" ry="38" transform="rotate(8 1490 655)"/>
<path class="b" d="M245,910L375,935L365,975L250,925Z"/>
<path class="m" style="stroke:#fff;stroke-width:1.5" d="M265,912L262,935M285,916L282,948M305,920L302,955M325,925L322,962M345,930L342,968"/>
<path class="f" d="M370,935L405,925L420,960L405,995L375,990L365,970Z"/>
<path class="m" d="M395,950L405,975M388,965L412,960"/>
</g>

<!-- Gear cover, chuck, screws (z3) -->
<g transform="translate(1270,680) scale(.3333)">
<path class="t" d="M345,165L375,240L375,298L515,335L530,400L525,510L460,570L320,535M320,535L265,610L270,660L225,705L150,690L0,645"/>
<path class="m" d="M-20,620C-30,580 -30,480 -10,420L25,210L50,190L100,150L165,100L190,50L345,95C360,110 360,140 345,165"/>
<path class="n" d="M170,95L300,130M30,250L155,290M5,580L140,610M125,470C130,380 150,310 165,285M195,225C230,175 290,145 330,130"/>
<path class="m" d="M30,200L190,225M30,210C25,230 30,250 35,255M165,285C190,290 210,280 210,250C200,220 180,220 170,240"/>
<ellipse class="m" cx="340" cy="120" rx="14" ry="22"/>
<ellipse class="m" cx="180" cy="260" rx="14" ry="22"/>
<ellipse class="m" cx="170" cy="635" rx="14" ry="22"/>
<path class="n" d="M200,630L245,615L270,620M150,690C160,660 190,640 205,625"/>
<ellipse class="m" cx="470" cy="450" rx="52" ry="108" transform="rotate(10 470 450)"/>
<ellipse class="m" cx="462" cy="445" rx="38" ry="92" transform="rotate(10 462 445)"/>
<ellipse class="n" cx="470" cy="450" rx="46" ry="102" transform="rotate(10 470 450)"/>
<path class="t" d="M700,335L800,360L880,375L950,400L1010,460L1100,485L1135,560L1135,600L1210,630L1205,690L1105,690L1080,730L1005,755L900,745L830,740L720,715L700,700L640,690L585,640L580,560L620,430L670,350Z"/>
<path class="m" d="M800,375C740,430 700,550 705,630L720,715"/>
<path class="n" d="M740,360C700,420 660,480 645,600L650,650M690,420L665,500"/>
<path class="t" d="M930,420C935,440 910,430 910,455C905,480 880,455 885,485C880,510 850,490 850,525C850,555 825,540 825,575C830,610 810,600 815,640C825,660 815,680 830,710"/>
<path class="m" d="M870,470l40,10M850,520l30,10M825,600l30,8M820,680l30,6"/>
<path class="b" d="M945,405L1005,430L1010,460L950,445ZM830,715L905,720L900,750L850,745Z"/>
<path class="n" d="M1060,490C1000,560 970,670 1000,750M1045,490C1000,560 980,650 1000,740"/>
<path class="m" d="M950,475C960,495 985,500 1000,480M885,650C915,640 935,670 920,690"/>
<path class="f" d="M1070,600L1135,590L1205,625L1210,665L1170,695L1070,680C1050,660 1050,620 1070,600Z"/>
<path class="m" d="M1060,625L1180,655M1180,650L1205,630"/>
<path class="n" d="M1210,665L1245,675M1280,680L1300,685"/>
<path class="b" d="M1300,680L1420,700L1410,750L1300,715Z"/>
<path class="m" style="stroke:#fff;stroke-width:1.5" d="M1320,680L1315,720M1335,682L1330,725M1350,685L1345,730M1365,688L1360,735M1380,690L1375,740M1395,692L1390,745"/>
<path class="f" d="M1410,700L1485,690L1480,760L1450,780L1410,750Z"/>
<ellipse class="m" cx="1465" cy="735" rx="14" ry="25"/>
<path class="b" d="M300,715L470,755L465,795L300,745Z"/>
<path class="m" style="stroke:#fff;stroke-width:1.5" d="M320,718L315,752M340,722L335,760M360,726L355,765M380,731L375,772M400,736L395,778M420,741L415,785M440,746L435,790"/>
<path class="f" d="M465,750L495,745L510,775L495,805L470,805L460,790Z"/>
<path class="m" d="M480,770l15,5l-5,15"/>
</g>

<!-- Side handle bolt -->
<g transform="translate(1703,1020) scale(.342,.3333)">
<path class="t" d="M110,10L150,0L195,15L200,50L160,65L110,60L95,35Z"/>
<path class="m" d="M110,25L165,40L195,20M165,40V65"/>
<path class="t" d="M125,65V370M170,65V370"/>
<path class="b" d="M122,370H174V525Q150,540 125,525Z"/>
<path class="m" style="stroke:#fff;stroke-width:1.6" d="M128,385h40M128,400h40M128,415h40M128,430h40M128,445h40M128,460h40M128,475h40M128,490h40M128,505h40"/>
</g>

<!-- Side handle body -->
<g transform="translate(1700,1052) scale(.342,.31)">
<path class="t" d="M50,605L330,485Q400,480 510,540C560,590 580,680 565,750C530,880 400,1030 290,1160L300,1180L55,1170L65,800L60,720C45,690 40,630 50,605Z"/>
<path class="t" d="M55,625L190,650L470,525"/>
<path class="m" d="M190,570L310,520L350,540L200,600ZM205,565L325,540M100,570L460,520"/>
<ellipse class="m" cx="155" cy="595" rx="35" ry="20"/>
<path class="m" d="M150,575V612"/>
<ellipse class="t" cx="182" cy="680" rx="16" ry="24"/>
<path class="m" d="M150,650L155,705L185,725L180,790"/>
<path class="t" d="M70,710L160,715M70,790L185,795L250,790L255,850"/>
<path class="t" d="M395,600C330,610 270,690 255,770L250,790M395,600L400,660C390,760 310,830 260,850"/>
<path class="m" d="M395,595C470,590 500,620 505,680C500,780 450,890 340,915C280,910 260,880 255,850"/>
<path class="m" d="M405,605L485,630M410,670L505,700M395,740L495,775M355,795L455,830M305,840L405,885M285,885L340,910"/>
<path class="t" d="M225,855L290,940L225,1020Z"/>
<path class="m" d="M225,895L255,960L230,1000"/>
<path class="t" d="M225,1050L350,945L365,960L300,1040L225,1095ZM225,1120L400,925L450,905L430,950L300,1110L225,1160Z"/>
<path class="f" d="M50,1170C80,1210 260,1225 305,1175L300,1195C260,1240 80,1235 45,1190Z"/>
</g>
</svg>
</body></html>
